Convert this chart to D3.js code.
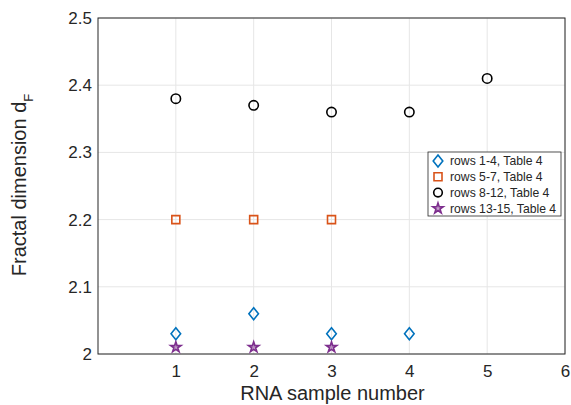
<!DOCTYPE html>
<html>
<head>
<meta charset="utf-8">
<script src="https://cdn.jsdelivr.net/npm/d3@7"></script>
<style>
  body { margin: 0; background: #fff; }
  svg text { font-family: "Liberation Sans", Arial, Helvetica, sans-serif; fill: #262626; }
</style>
</head>
<body>
<svg id="chart" width="571" height="405"></svg>
<script>
'use strict';

// data
var xTicks = [1, 2, 3, 4, 5, 6];
var yTicks = [2, 2.1, 2.2, 2.3, 2.4, 2.5];
var seriesNames = ['rows 1-4, Table 4', 'rows 5-7, Table 4', 'rows 8-12, Table 4', 'rows 13-15, Table 4'];
var rows14 = [2.03, 2.06, 2.03, 2.03];
var rows57 = [2.2, 2.2, 2.2];
var rows812 = [2.38, 2.37, 2.36, 2.36, 2.41];
var rows1315 = [2.01, 2.01, 2.01];

var svg = d3.select('#chart');
var margin = {left: 98, right: 6, top: 18, bottom: 51};
var width = 571 - margin.left - margin.right;
var height = 405 - margin.top - margin.bottom;

var x = d3.scaleLinear().domain([0, 6]).range([margin.left, margin.left + width]);
var y = d3.scaleLinear().domain([2, 2.5]).range([margin.top + height, margin.top]);

// grid
var grid = svg.append('g').attr('stroke', '#e6e6e6').attr('stroke-width', 1);
grid.selectAll('line.vx').data(xTicks).enter().append('line')
  .attr('x1', function(d) { return x(d); }).attr('x2', function(d) { return x(d); })
  .attr('y1', y(2)).attr('y2', y(2.5));
grid.selectAll('line.hy').data(yTicks).enter().append('line')
  .attr('y1', function(d) { return y(d); }).attr('y2', function(d) { return y(d); })
  .attr('x1', x(0)).attr('x2', x(6));

// axes
var xAxis = d3.axisBottom(x).tickValues(xTicks).tickSize(0).tickPadding(11).tickFormat(d3.format('d'));
var yAxis = d3.axisLeft(y).tickValues(yTicks).tickSize(0).tickPadding(6).tickFormat(function(d) {
  return d === 2 ? '2' : d3.format('.1f')(d);
});
var gx = svg.append('g').attr('transform', 'translate(0,' + y(2) + ')').call(xAxis);
var gy = svg.append('g').attr('transform', 'translate(' + x(0) + ',0)').call(yAxis);
[gx, gy].forEach(function(g) {
  g.select('.domain').remove();
  g.selectAll('text').style('font-size', '17px').attr('fill', '#262626');
});

// box
svg.append('rect')
  .attr('x', x(0)).attr('y', y(2.5))
  .attr('width', x(6) - x(0)).attr('height', y(2) - y(2.5))
  .attr('fill', 'none').attr('stroke', '#262626').attr('stroke-width', 1);

// axis labels
svg.append('text')
  .attr('x', (x(0) + x(6)) / 2 + 1).attr('y', 400)
  .attr('text-anchor', 'middle').style('font-size', '20px')
  .text('RNA sample number');

var yl = svg.append('text')
  .attr('transform', 'translate(26,185) rotate(-90)')
  .attr('text-anchor', 'middle').style('font-size', '20px');
yl.append('tspan').text('Fractal dimension d');
yl.append('tspan').attr('dy', 7).style('font-size', '13px').text('F');

// markers
var diamond = 'M0,-6L4.8,0L0,6L-4.8,0Z';
var square = 'M-4,-4H4V4H-4Z';
var star = d3.symbol().type(d3.symbolStar).size(34)();

function drawPoints(vals, shape, color, name) {
  var g = svg.append('g').attr('class', name);
  g.selectAll('.pt').data(vals).enter().append(shape === 'circle' ? 'circle' : 'path')
    .attr('transform', function(d, i) { return 'translate(' + x(i + 1) + ',' + y(d) + ')'; })
    .each(function() {
      var el = d3.select(this);
      if (shape === 'circle') el.attr('r', 4.7);
      else el.attr('d', shape);
    })
    .attr('fill', shape === star ? color : 'none')
    .attr('fill-opacity', shape === star ? 0.45 : 1)
    .attr('stroke', color)
    .attr('stroke-width', 1.6);
}

var colors = ['#0072BD', '#D95319', '#000000', '#7E2F8E'];
var shapes = [diamond, square, 'circle', star];
drawPoints(rows14, diamond, colors[0], 's1');
drawPoints(rows57, square, colors[1], 's2');
drawPoints(rows812, 'circle', colors[2], 's3');
drawPoints(rows1315, star, colors[3], 's4');

// legend
var lg = svg.append('g').attr('transform', 'translate(428,152)');
lg.append('rect').attr('width', 133).attr('height', 64)
  .attr('fill', '#fff').attr('stroke', '#262626').attr('stroke-width', 0.8);
seriesNames.forEach(function(name, i) {
  var row = lg.append('g').attr('transform', 'translate(0,' + (9 + i * 15.8) + ')');
  var m = row.append(shapes[i] === 'circle' ? 'circle' : 'path')
    .attr('transform', 'translate(10,0)')
    .attr('fill', shapes[i] === star ? colors[i] : 'none')
    .attr('fill-opacity', shapes[i] === star ? 0.45 : 1)
    .attr('stroke', colors[i]).attr('stroke-width', 1.6);
  if (shapes[i] === 'circle') m.attr('r', 4.3);
  else m.attr('d', shapes[i]);
  row.append('text').attr('x', 22).attr('y', 4.3)
    .style('font-size', '12.2px').text(name);
});
</script>
</body>
</html>
